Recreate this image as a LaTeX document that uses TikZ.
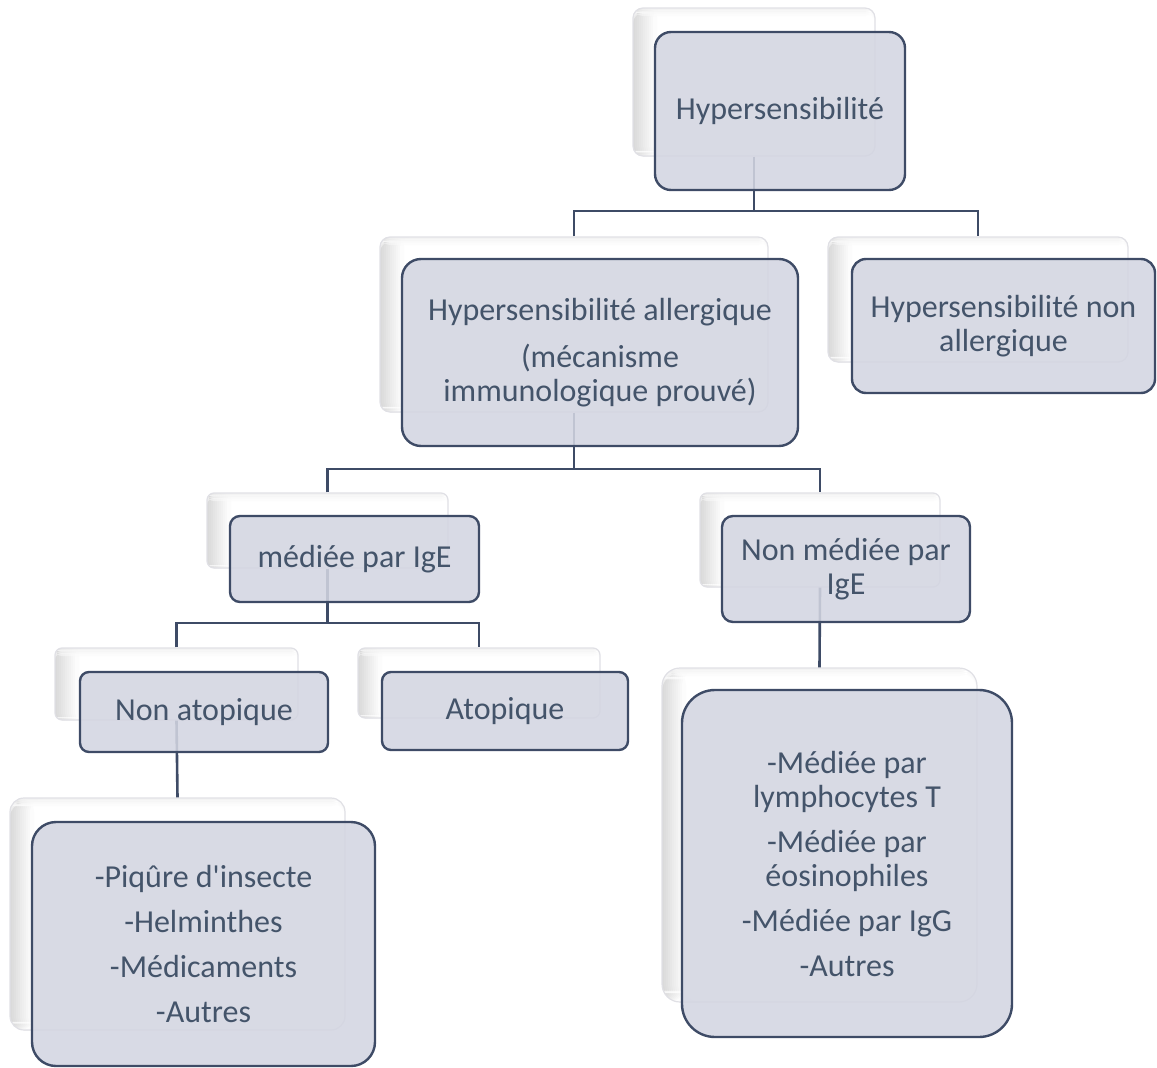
\documentclass[tikz,border=0pt]{standalone}
\usepackage{fontspec}
\newfontfamily\calfont{Carlito}
\definecolor{txt}{HTML}{44546A}
\definecolor{edgec}{HTML}{3E4B66}
\definecolor{frontfill}{HTML}{D3D5E1}
\definecolor{backline}{HTML}{E0E0E5}
\tikzset{
  backbox/.style={draw=backline, line width=1.2pt, fill=white, rounded corners=#1,
    path picture={
      \foreach \i in {0,...,11}{
        \pgfmathsetmacro\shadeamt{16*(1-\i/12)}
        \fill[black!\shadeamt]
          ([xshift=\i*2pt-2pt]path picture bounding box.north west) rectangle ([xshift=\i*2pt+2pt]path picture bounding box.south west);
      }
      \foreach \i in {0,...,3}{
        \pgfmathsetmacro\shadeamt{7*(1-\i/4)}
        \fill[black!\shadeamt, fill opacity=0.5]
          ([yshift=-\i*2pt+1pt]path picture bounding box.north west) rectangle ([yshift=-\i*2pt-2pt]path picture bounding box.north east);
      }
    }},
  frontbox/.style={draw=edgec, line width=2.4pt, fill=frontfill, fill opacity=0.88,
    text opacity=1, text=txt, align=center, rounded corners=#1,
    font=\calfont\fontsize{32}{34}\selectfont},
  conn/.style={draw=edgec, line width=2.6pt},
}
\begin{document}
\begin{tikzpicture}[x=1pt, y=-1pt]
\useasboundingbox (0,0) rectangle (1157,1068);
% back boxes
\node[backbox=10pt, minimum width=242pt, minimum height=148pt] (b1) at (754,82) {};
\node[backbox=10pt, minimum width=388pt, minimum height=175pt] (b2) at (574,324.5) {};
\node[backbox=10pt, minimum width=300pt, minimum height=125pt] (b3) at (978,299.5) {};
\node[backbox=7pt, minimum width=241pt, minimum height=75pt] (b4) at (327.5,530.5) {};
\node[backbox=7pt, minimum width=240pt, minimum height=94pt] (b5) at (820,540) {};
\node[backbox=7pt, minimum width=243pt, minimum height=72pt] (b6) at (176.5,684) {};
\node[backbox=7pt, minimum width=242pt, minimum height=70pt] (b7) at (479,683) {};
\node[backbox=14pt, minimum width=335pt, minimum height=232pt] (b8) at (177.5,914) {};
\node[backbox=18pt, minimum width=315pt, minimum height=334pt] (b9) at (819.5,835) {};
% junction levels
\coordinate (j1) at (0,211);
\coordinate (j2) at (0,469);
\coordinate (j3) at (0,623);
% connectors
\draw[conn] (b1.south) -- (b1.south |- j1);
\draw[conn] (b2.north) |- (b1.south |- j1) -| (b3.north);
\draw[conn] (b2.south) -- (b2.south |- j2);
\draw[conn] (b4.north) |- (b2.south |- j2) -| (b5.north);
\draw[conn] (b4.south) -- (b4.south |- j3);
\draw[conn] (b6.north) |- (b4.south |- j3) -| (b7.north);
\draw[conn] (b6.south) -- (b8.north);
\draw[conn] (b5.south) -- (b9.north);
% front boxes
\node[frontbox=16pt, minimum width=250pt, minimum height=158pt] (f1) at (780,111) {Hypersensibilité};
\node[frontbox=19pt, minimum width=396pt, minimum height=187pt] (f2) at (600,352.5)
  {Hypersensibilité allergique\\[13pt](mécanisme\\immunologique prouvé)};
\node[frontbox=14pt, minimum width=303pt, minimum height=134pt] (f3) at (1003.5,326)
  {Hypersensibilité non\\allergique};
\node[frontbox=10pt, minimum width=249pt, minimum height=86pt] (f4) at (354.5,559) {médiée par IgE};
\node[frontbox=11pt, minimum width=248pt, minimum height=106pt] (f5) at (846,569) {Non médiée par\\IgE};
\node[frontbox=9pt, minimum width=248pt, minimum height=80pt] (f6) at (204,712) {Non atopique};
\node[frontbox=9pt, minimum width=246pt, minimum height=78pt] (f7) at (505,711) {Atopique};
\node[frontbox=24pt, minimum width=343pt, minimum height=244pt] (f8) at (203.5,944)
  {-Piqûre d'insecte\\[11pt]-Helminthes\\[11pt]-Médicaments\\[11pt]-Autres};
\node[frontbox=33pt, minimum width=330pt, minimum height=347pt] (f9) at (847,863.5)
  {-Médiée par\\lymphocytes T\\[11pt]-Médiée par\\éosinophiles\\[11pt]-Médiée par IgG\\[11pt]-Autres};
\end{tikzpicture}
\end{document}
